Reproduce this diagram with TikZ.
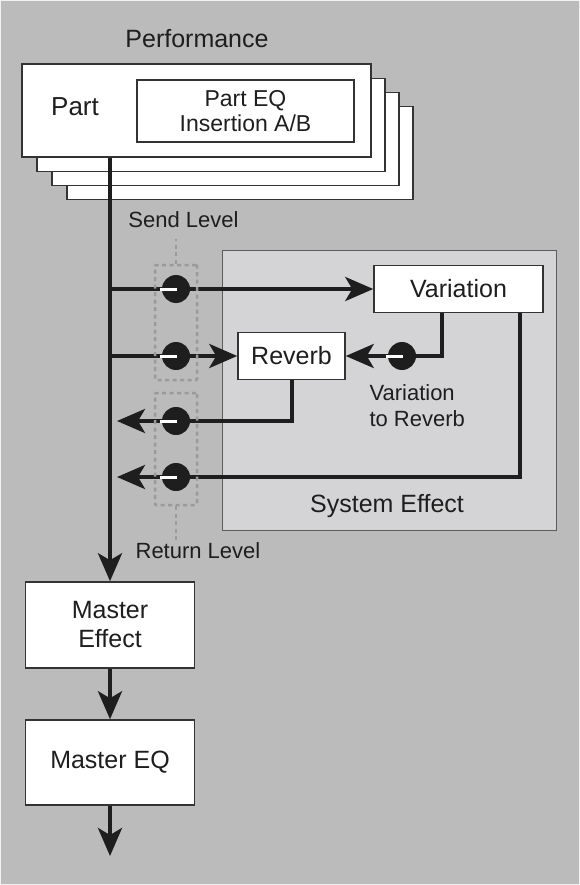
\documentclass[tikz,border=0pt]{standalone}
\usepackage{fontspec}
\setmainfont{Liberation Sans}
\usetikzlibrary{arrows.meta}
\definecolor{bggray}{HTML}{BBBBBB}
\definecolor{sysgray}{HTML}{D4D4D6}
\definecolor{dashgray}{HTML}{9A9A9A}
\definecolor{ink}{HTML}{1E1E1E}
\definecolor{edge}{HTML}{333333}
\begin{document}
\begin{tikzpicture}[x=1pt,y=-1pt,
  big/.style={font=\fontsize{25}{29}\selectfont, text=ink},
  small/.style={font=\fontsize{22}{26}\selectfont, text=ink},
  box/.style={draw=edge, line width=1.5pt, fill=white, rectangle, inner sep=0pt},
  flow/.style={draw=ink, line width=4pt, line join=miter, -{Stealth[length=28pt,width=24pt,inset=7pt]}},
  wire/.style={draw=ink, line width=4pt, line join=miter},
  knob/.style={circle, fill=ink, minimum size=28pt, inner sep=0pt},
  tick/.style={draw=white, line width=3pt},
  dbox/.style={draw=dashgray, line width=2.5pt, dash pattern=on 4pt off 3.5pt, rectangle, rounded corners=1pt, inner sep=0pt},
  dline/.style={draw=dashgray, line width=2.5pt, dash pattern=on 4pt off 3.5pt}]
% background
\fill[bggray] (0,0) rectangle (580,885);
\draw[line width=1pt, draw=white!80!bggray] (0.5,0.5) rectangle (579.5,884.5);
\useasboundingbox (0,0) rectangle (580,885);

% title
\node[big] (perf) at (197,39) {Performance};

% part stack
\node[box, minimum width=346pt, minimum height=93pt] (part4) at (240,153) {};
\node[box, minimum width=347pt, minimum height=93pt] (part3) at (225.5,139) {};
\node[box, minimum width=348pt, minimum height=93pt] (part2) at (211,125) {};
\node[box, minimum width=349pt, minimum height=93pt] (part1) at (196.5,110.5) {};
\node[big, font=\fontsize{26}{29}\selectfont] (partlbl) at (75,107) {Part};
\node[box, minimum width=217pt, minimum height=62pt, align=center,
      font=\fontsize{23}{25}\selectfont, text=ink] (parteq) at (245.5,111) {Part EQ\\Insertion A/B};

% system effect
\node[rectangle, draw=edge!80!white, line width=1pt, fill=sysgray,
      minimum width=334pt, minimum height=280pt] (sys) at (389,390.5) {};
\node[big] (syslbl) at (387,506) {System Effect};
\node[box, minimum width=169pt, minimum height=47pt, big] (var) at (458.5,289) {Variation};
\node[box, minimum width=107pt, minimum height=47pt, big] (rev) at (291.5,356) {Reverb};
\node[small, align=left, anchor=west] (v2r) at (366,406) {Variation\\to Reverb};

% master chain
\node[box, minimum width=169pt, minimum height=86pt, big, align=center] (me) at (110,625) {Master\\Effect};
\node[box, minimum width=169pt, minimum height=85pt, big] (meq) at (110,762.5) {Master EQ};
\coordinate (out) at (110,856);

% row coordinates on the main line
\coordinate (m1) at (110,289);
\coordinate (m2) at (110,356);
\coordinate (r3) at (117,421);
\coordinate (r4) at (117,477);
\coordinate (mtop) at (me.north |- part1.south);

% main line and chain arrows
\draw[flow] (mtop) -- (me.north);
\draw[flow] (me.south) -- (meq.north);
\draw[flow] (meq.south) -- (out);

% sends
\draw[flow] (m1) -- (var.west |- m1);
\draw[flow] (m2) -- (rev.west);
% returns
\draw[flow] (rev.south) |- (r3);
\draw[flow] ([xshift=61.5pt]var.south) |- (r4);
% variation to reverb
\node[knob] (kv) at (402,356) {};
\draw[flow] ([xshift=-16.5pt]var.south) |- (kv) -- (rev.east);

% dashed level groups
\node[dbox, minimum width=42pt, minimum height=115pt] (sendbox) at (176,322.5) {};
\node[dbox, minimum width=42pt, minimum height=112pt] (retbox) at (176,449) {};
\node[small] (sendlbl) at (183.5,220) {Send Level};
\node[small] (retlbl) at (198,551) {Return Level};
\draw[dline] (sendbox.north) -- ++(0,-25);
\draw[dline] (retbox.south) -- ++(0,37);

% knobs
\node[knob] (k1) at (176,289) {};
\node[knob] (k2) at (176,356) {};
\node[knob] (k3) at (176,421) {};
\node[knob] (k4) at (176,477) {};
\foreach \k in {k1,k2,k3,k4,kv}{
  \draw[tick] ([xshift=-16.5pt]\k.center) -- ([xshift=1pt]\k.center);
}
\end{tikzpicture}
\end{document}
